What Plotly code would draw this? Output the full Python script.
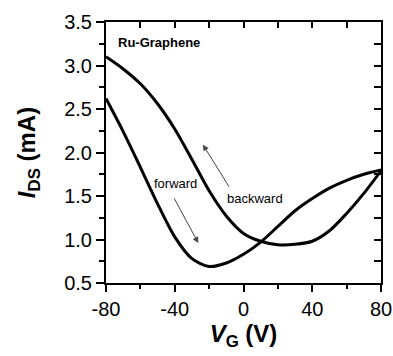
import plotly.graph_objects as go

vg = [-80, -70, -60, -50, -40, -30, -20, -10, 0, 10, 20, 30, 40, 50, 60, 70, 80]
forward = [2.62, 2.24, 1.83, 1.41, 1.03, 0.78, 0.69, 0.73, 0.83, 0.97, 1.15, 1.33, 1.47, 1.59, 1.68, 1.75, 1.80]
backward = [3.10, 2.96, 2.79, 2.56, 2.27, 1.92, 1.56, 1.27, 1.07, 0.98, 0.94, 0.945, 0.98, 1.10, 1.30, 1.53, 1.79]

x_ticks = [-80, -40, 0, 40, 80]
y_ticks = [0.5, 1.0, 1.5, 2.0, 2.5, 3.0, 3.5]

FONT = "Liberation Sans, Arial, sans-serif"

fig = go.Figure()
fig.add_trace(go.Scatter(x=vg, y=forward, mode="lines", line=dict(color="black", width=3, shape="spline", smoothing=0.8), showlegend=False))
fig.add_trace(go.Scatter(x=vg, y=backward, mode="lines", line=dict(color="black", width=3, shape="spline", smoothing=0.8), showlegend=False))
# invisible trace for mirrored axes
fig.add_trace(go.Scatter(x=[-80, 80], y=[0.5, 3.5], xaxis="x2", yaxis="y2", mode="markers", marker=dict(opacity=0), showlegend=False, hoverinfo="skip"))

common = dict(showline=True, linewidth=2, linecolor="black", showgrid=False, zeroline=False, tickcolor="black", tickwidth=1.5, automargin=False)

fig.update_layout(
    width=393, height=356,
    margin=dict(l=106, r=12, t=22, b=73),
    paper_bgcolor="white", plot_bgcolor="white",
    font=dict(family=FONT, color="black"),
    xaxis=dict(range=[-80, 80], tickvals=x_ticks, ticktext=[str(v) for v in x_ticks], ticks="outside", ticklen=7,
               minor=dict(dtick=20, tick0=-80, ticks="outside", ticklen=4, tickcolor="black", tickwidth=1.5),
               tickfont=dict(size=20, family=FONT),
               title=dict(text="<b><i>V</i><sub>G</sub> (V)</b>", font=dict(size=24, family=FONT), standoff=4),
               **common),
    yaxis=dict(range=[0.5, 3.5], tickvals=y_ticks, ticktext=["%.1f" % v for v in y_ticks], ticks="outside", ticklen=8,
               minor=dict(dtick=0.25, tick0=0.5, ticks="outside", ticklen=5, tickcolor="black", tickwidth=1.5),
               tickfont=dict(size=20, family=FONT),
               title=dict(text="<b><i>I</i><sub>DS</sub> (mA)</b>", font=dict(size=24, family=FONT), standoff=22),
               **common),
    xaxis2=dict(range=[-80, 80], overlaying="x", side="top", anchor="y", tickvals=x_ticks, ticks="inside", ticklen=6,
                showticklabels=False,
                minor=dict(dtick=20, tick0=-80, ticks="inside", ticklen=6, tickcolor="black", tickwidth=1.5),
                **common),
    yaxis2=dict(range=[0.5, 3.5], overlaying="y", side="right", anchor="x", tickvals=y_ticks, ticks="inside", ticklen=7,
                showticklabels=False,
                minor=dict(dtick=0.25, tick0=0.5, ticks="inside", ticklen=7, tickcolor="black", tickwidth=1.5),
                **common),
)

fig.add_annotation(x=-74, y=3.26, xref="x", yref="y", text="<b>Ru-Graphene</b>", showarrow=False,
                   xanchor="left", yanchor="middle", font=dict(size=13, family=FONT, color="black"))
fig.add_annotation(x=-39.6, y=1.64, xref="x", yref="y", text="forward", showarrow=False,
                   xanchor="center", yanchor="middle", font=dict(size=13, family=FONT, color="black"))
fig.add_annotation(x=6.4, y=1.47, xref="x", yref="y", text="backward", showarrow=False,
                   xanchor="center", yanchor="middle", font=dict(size=13, family=FONT, color="black"))
# arrows
fig.add_annotation(x=-26.3, y=0.96, ax=-40.8, ay=1.49, xref="x", yref="y", axref="x", ayref="y", text="",
                   showarrow=True, arrowhead=2, arrowsize=1.2, arrowwidth=1, arrowcolor="#444")
fig.add_annotation(x=-23.6, y=2.09, ax=-7.9, ay=1.59, xref="x", yref="y", axref="x", ayref="y", text="",
                   showarrow=True, arrowhead=2, arrowsize=1.2, arrowwidth=1, arrowcolor="#444")

fig.write_html("out.html", config={"displayModeBar": False},
               post_script="document.body.style.margin='0';document.body.style.overflow='hidden';")
